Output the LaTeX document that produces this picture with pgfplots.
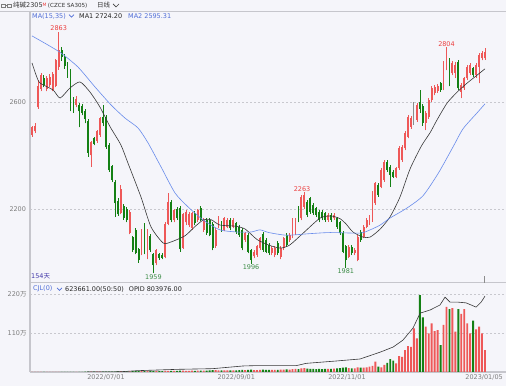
\documentclass[border=0pt]{standalone}
\usepackage{pgfplots}
\pgfplotsset{compat=1.18}
\usepackage{pgfplotstable}
\usepackage{fontspec}
\setmainfont{DejaVu Sans}
\newfontfamily\cjk{Noto Sans CJK SC}
\definecolor{bg}{RGB}{245,245,250}
\definecolor{bord}{RGB}{198,198,204}
\definecolor{gridc}{RGB}{200,200,206}
\definecolor{cred}{RGB}{238,88,88}
\definecolor{cgreen}{RGB}{20,128,20}
\definecolor{cgray}{RGB}{140,140,140}
\definecolor{ma1}{RGB}{55,55,55}
\definecolor{ma2}{RGB}{105,140,235}
\definecolor{tickc}{RGB}{125,125,125}
\definecolor{lblred}{RGB}{236,64,64}
\definecolor{lblgreen}{RGB}{60,140,70}
\definecolor{daysc}{RGB}{70,60,170}
\definecolor{blue1}{RGB}{80,110,215}

\pgfplotsset{candle/.style={only marks, mark size=0pt, mark options={draw=none, fill=none},
  error bars/y dir=plus, error bars/y explicit, error bars/error mark=none}}

\pgfplotstableread{
i o h l c v d
0 2476 2512 2470 2505 0.4 1
1 2490 2520 2484 2512 0.4 1
2 2580 2682 2575 2660 0.5 1
3 2650 2710 2640 2700 0.5 1
4 2690 2700 2655 2665 0.5 -1
5 2650 2698 2640 2690 0.5 1
6 2665 2705 2655 2695 0.5 1
7 2645 2712 2640 2705 0.6 1
8 2660 2762 2655 2757 0.6 1
9 2730 2863 2720 2795 0.7 1
10 2795 2805 2755 2770 0.6 -1
11 2770 2778 2725 2735 0.6 -1
12 2740 2750 2690 2700 0.6 -1
13 2720 2725 2565 2600 0.7 -1
14 2610 2618 2560 2570 0.6 -1
15 2590 2622 2580 2612 0.6 1
16 2590 2598 2505 2565 0.7 -1
17 2585 2592 2550 2560 0.7 -1
18 2565 2572 2520 2535 0.8 -1
19 2530 2535 2395 2410 0.9 -1
20 2400 2455 2358 2450 0.9 1
21 2465 2470 2438 2444 0.8 -1
22 2455 2495 2448 2490 0.9 1
23 2478 2545 2470 2540 0.9 1
24 2545 2590 2510 2520 1.0 -1
25 2545 2550 2425 2430 1.1 -1
26 2440 2448 2340 2345 1.2 -1
27 2360 2365 2300 2310 1.2 -1
28 2300 2310 2170 2222 1.4 -1
29 2230 2240 2175 2180 1.5 -1
30 2185 2290 2180 2275 1.6 1
31 2210 2220 2160 2165 1.8 -1
32 2200 2206 2150 2160 1.9 -1
33 2110 2195 2105 2190 2.0 1
34 2095 2100 2040 2047 2.2 -1
35 2120 2130 2030 2035 2.3 -1
36 2050 2055 2000 2010 2.4 -1
37 2035 2125 2028 2110 2.5 1
38 2130 2146 2030 2035 2.4 -1
39 2020 2125 2012 2120 2.6 1
40 2100 2108 2040 2045 2.7 -1
41 2030 2035 1959 1990 3.0 -1
42 1997 2050 1990 2045 2.9 1
43 2030 2036 2010 2016 2.7 -1
44 2028 2034 2012 2018 2.6 -1
45 2022 2150 2015 2145 3.2 1
46 2145 2258 2140 2226 3.5 1
47 2225 2235 2150 2160 3.3 -1
48 2160 2200 2150 2195 3.0 1
49 2200 2208 2160 2165 3.1 -1
50 2205 2212 2040 2050 3.6 -1
51 2055 2185 2050 2180 3.8 1
52 2150 2195 2140 2190 3.5 1
53 2140 2188 2132 2180 3.4 1
54 2130 2190 2122 2184 3.6 1
55 2184 2192 2140 2146 3.5 -1
56 2160 2200 2152 2196 3.7 1
57 2205 2212 2155 2160 3.9 -1
58 2122 2166 2115 2160 3.8 1
59 2160 2168 2104 2110 4.2 -1
60 2158 2165 2098 2103 4.5 -1
61 2145 2150 2045 2053 5.5 -1
62 2060 2128 2055 2122 5.0 1
63 2134 2172 2128 2165 4.6 1
64 2147 2155 2115 2122 4.4 -1
65 2122 2170 2116 2165 4.5 1
66 2134 2166 2128 2159 4.3 1
67 2159 2166 2120 2128 4.4 -1
68 2134 2165 2128 2159 4.6 1
69 2147 2152 2108 2115 4.8 -1
70 2134 2140 2096 2103 5.0 -1
71 2122 2128 2045 2053 5.8 -1
72 2085 2115 2078 2109 5.2 1
73 2103 2110 2034 2040 6.0 -1
74 2047 2052 1996 2010 6.5 -1
75 2023 2046 2015 2040 5.5 1
76 2028 2066 2022 2060 5.6 1
77 2053 2096 2046 2090 6.0 1
78 2108 2115 2040 2047 6.4 -1
79 2085 2092 2034 2040 6.2 -1
80 2065 2072 2028 2035 6.0 -1
81 2035 2060 2028 2053 5.8 1
82 2028 2060 2020 2053 6.0 1
83 2072 2080 2028 2035 6.3 -1
84 2022 2060 2012 2053 6.5 1
85 2053 2097 2046 2090 7.0 1
86 2103 2110 2058 2065 7.2 -1
87 2085 2110 2078 2103 7.0 1
88 2097 2166 2090 2159 8.0 1
89 2110 2166 2104 2159 8.5 1
90 2202 2210 2150 2159 8.0 -1
91 2165 2252 2158 2245 10 1
92 2208 2263 2200 2252 11 1
93 2227 2235 2170 2178 9.5 -1
94 2240 2246 2182 2190 9.0 -1
95 2215 2222 2178 2184 8.5 -1
96 2202 2208 2170 2178 8.0 -1
97 2190 2196 2150 2159 8.5 -1
98 2190 2197 2158 2165 8.0 -1
99 2184 2190 2152 2159 8.5 -1
100 2160 2185 2153 2178 9.0 1
101 2178 2184 2153 2160 9.0 -1
102 2165 2184 2158 2178 9.5 1
103 2165 2171 2126 2134 10 -1
104 2150 2157 2104 2110 11 -1
105 2110 2116 2034 2040 12 -1
106 2060 2066 1981 2010 13 -1
107 2022 2066 2015 2059 11 1
108 2059 2066 2028 2034 10 -1
109 2035 2054 2028 2047 10 1
110 2010 2103 2004 2097 13 1
111 2115 2122 2078 2085 12 -1
112 2097 2140 2090 2134 12 1
113 2134 2165 2128 2159 13 1
114 2146 2178 2140 2172 15 1
115 2159 2266 2152 2259 17 1
116 2221 2302 2215 2296 29 1
117 2290 2298 2246 2252 15 -1
118 2284 2352 2278 2346 13 1
119 2308 2384 2302 2377 20 1
120 2377 2384 2340 2346 26 -1
121 2358 2364 2284 2327 36 -1
122 2340 2346 2315 2321 32 -1
123 2321 2358 2315 2352 24 1
124 2352 2434 2346 2427 45 1
125 2383 2440 2377 2433 43 1
126 2427 2490 2420 2483 62 1
127 2470 2552 2464 2545 73 1
128 2508 2546 2500 2539 71 1
129 2545 2601 2514 2547 123 0
130 2533 2596 2527 2589 95 1
131 2600 2645 2560 2575 217 -1
132 2585 2592 2512 2520 154 -1
133 2520 2565 2495 2558 128 1
134 2545 2615 2538 2608 109 1
135 2608 2658 2600 2651 137 1
136 2632 2664 2625 2657 115 1
137 2640 2668 2634 2660 118 1
138 2670 2676 2638 2645 76 -1
139 2650 2752 2644 2745 133 1
140 2725 2804 2718 2755 184 1
141 2757 2764 2658 2664 177 -1
142 2707 2752 2700 2745 180 1
143 2710 2748 2690 2740 114 1
144 2751 2758 2645 2651 177 -1
145 2639 2670 2614 2664 164 1
146 2651 2694 2645 2688 177 1
147 2688 2738 2682 2732 137 1
148 2707 2745 2700 2738 109 1
149 2726 2732 2695 2701 145 -1
150 2701 2744 2690 2738 120 1
151 2732 2782 2670 2776 128 1
152 2763 2790 2756 2782 109 1
153 2763 2800 2757 2788 62 1
}\kdata

\begin{document}
\begin{tikzpicture}
\useasboundingbox (0,0) rectangle (506bp,386bp);
\fill[bg] (0,0) rectangle (506bp,386bp);
% frame lines
\draw[bord, line width=1.4bp] (0,374.5bp) -- (506bp,374.5bp);
\draw[bord, line width=1.4bp] (30bp,374bp) -- (30bp,13.5bp);
\draw[bord, line width=1bp] (30bp,103bp) -- (506bp,103bp);
\draw[bord, line width=1.2bp] (30bp,14bp) -- (506bp,14bp);
\draw[cgray, line width=0.6bp] (484bp,103bp) -- (484bp,110bp);

% header
\draw[tickc, line width=0.6bp] (1.5bp,378.5bp) rectangle (5.5bp,382bp);
\draw[tickc, line width=0.6bp] (7.5bp,378.5bp) rectangle (11.5bp,382bp);
\draw[tickc, line width=0.6bp] (5.5bp,380.2bp) -- (7.5bp,380.2bp);
\node[anchor=west, inner sep=0pt, text=black!80] at (13bp,380.5bp)
  {\fontsize{6.5}{7}\selectfont{\cjk 纯碱}2305\raisebox{1.5bp}{\fontsize{4.5}{5}\selectfont\color{lblred}M}\hspace{1.5bp}\fontsize{5.6}{6}\selectfont(CZCE SA305)};
\node[anchor=west, inner sep=0pt, text=black!80] at (97bp,380.5bp) {\fontsize{6.5}{7}\selectfont\cjk 日线};
\draw[black!75, line width=0.7bp] (113bp,382bp) -- (116bp,379bp) -- (119bp,382bp);

\node[anchor=west, inner sep=0pt, text=blue1] at (32bp,370bp) {\fontsize{6.5}{7}\selectfont MA(15,35)};
\draw[blue1, line width=0.7bp] (69bp,371.3bp) -- (71.5bp,368.8bp) -- (74bp,371.3bp);
\node[anchor=west, inner sep=0pt, text=black!85] at (79bp,370bp) {\fontsize{6.5}{7}\selectfont MA1 2724.20};
\node[anchor=west, inner sep=0pt, text=blue1] at (128bp,370bp) {\fontsize{6.5}{7}\selectfont MA2 2595.31};

\node[anchor=west, inner sep=0pt, text=daysc] at (31bp,109.3bp) {\fontsize{6.5}{7}\selectfont 154{\cjk 天}};

\node[anchor=west, inner sep=0pt, text=blue1] at (33bp,97bp) {\fontsize{6.5}{7}\selectfont CJL(0)};
\draw[blue1, line width=0.7bp] (57bp,98.2bp) -- (59.5bp,95.7bp) -- (62bp,98.2bp);
\node[anchor=west, inner sep=0pt, text=black!85] at (65bp,97bp) {\fontsize{6.5}{7}\selectfont 623661.00(50:50)\hspace{5bp}OPID 803976.00};

% price panel
\begin{axis}[at={(30bp,103bp)}, anchor=south west, width=476bp, height=271bp,
  scale only axis, xmin=-0.676, xmax=160.1, ymin=1923.4, ymax=2936.4,
  axis line style={draw=none}, major tick length=0pt,
  xtick=\empty, ytick={2200,2600}, yticklabels={2200,2600},
  yticklabel style={font=\fontsize{6.5}{7}\selectfont, text=tickc, xshift=-0.5bp},
  ymajorgrids, major grid style={draw=gridc, dash pattern=on 2bp off 2bp, line width=0.6bp},
  clip=true]
\addplot[candle, restrict expr to domain={\thisrow{d}}{0.5:1.5},
  error bars/error bar style={draw=cred, line width=0.7bp, solid}]
  table[x=i, y=l, y error expr=\thisrow{h}-\thisrow{l}] {\kdata};
\addplot[candle, restrict expr to domain={\thisrow{d}}{0.5:1.5},
  error bars/error bar style={draw=cred, line width=1.9bp, solid}]
  table[x=i, y=o, y error expr=\thisrow{c}-\thisrow{o}] {\kdata};
\addplot[candle, restrict expr to domain={\thisrow{d}}{-1.5:-0.5},
  error bars/error bar style={draw=cgreen, line width=0.7bp, solid}]
  table[x=i, y=l, y error expr=\thisrow{h}-\thisrow{l}] {\kdata};
\addplot[candle, restrict expr to domain={\thisrow{d}}{-1.5:-0.5},
  error bars/error bar style={draw=cgreen, line width=1.9bp, solid}]
  table[x=i, y=c, y error expr=\thisrow{o}-\thisrow{c}] {\kdata};
\addplot[candle, restrict expr to domain={\thisrow{d}}{-0.5:0.5},
  error bars/error bar style={draw=cgray, line width=0.9bp, solid}]
  table[x=i, y=l, y error expr=\thisrow{h}-\thisrow{l}] {\kdata};
% MA1 (15)
\addplot[ma1, line width=0.6bp, mark=none, smooth, tension=0.4] coordinates {
(0,2746) (1.4,2700) (2.7,2671) (7.1,2645) (9.5,2615) (12.8,2652) (16.2,2675)
(19.6,2637) (22.9,2582) (26.4,2507) (30,2440) (32.4,2372) (36.8,2245) (40.2,2133)
(44.3,2073) (47,2077) (51.7,2100) (55.1,2135) (58,2160) (60.5,2160) (63.5,2140)
(68.6,2136) (72,2125) (76,2086) (80,2065) (83.8,2054) (87,2065) (91.6,2110)
(97.3,2166) (101,2174) (104,2164) (106,2145) (108.4,2114) (111.8,2095) (114.2,2095)
(117.6,2125) (120.9,2170) (124.3,2245) (127.7,2350) (131.5,2435) (134.5,2486)
(136.8,2533) (140.2,2596) (143.6,2637) (147,2671) (150.3,2700) (153,2724)};
% MA2 (35)
\addplot[ma2, line width=0.6bp, mark=none, smooth, tension=0.4] coordinates {
(0,2847) (5.4,2813) (9.8,2783) (15.5,2731) (21.3,2656) (26.7,2589) (31.4,2540)
(35.8,2503) (39.2,2447) (43.6,2357) (48.3,2260) (52.7,2208) (57.8,2159) (63.5,2122)
(69.3,2114) (74,2114) (77,2122) (80,2112) (86,2102) (94,2108) (100.7,2112)
(110.8,2110) (114.2,2122) (117.6,2140) (120.9,2166) (126.7,2204) (132.1,2250)
(137.3,2335) (142.2,2432) (145.6,2500) (150.3,2559) (153,2593)};
% high/low labels
\node[anchor=south, inner sep=0.8bp, text=lblred, font=\fontsize{6.5}{7}\selectfont] at (axis cs:9,2863) {2863};
\node[anchor=south, inner sep=0.8bp, text=lblred, font=\fontsize{6.5}{7}\selectfont] at (axis cs:140,2804) {2804};
\node[anchor=south, inner sep=0.8bp, text=lblred, font=\fontsize{6.5}{7}\selectfont] at (axis cs:91.2,2263) {2263};
\node[anchor=north, inner sep=0.8bp, text=lblgreen, font=\fontsize{6.5}{7}\selectfont] at (axis cs:41,1959) {1959};
\node[anchor=north, inner sep=0.8bp, text=lblgreen, font=\fontsize{6.5}{7}\selectfont] at (axis cs:74,1996) {1996};
\node[anchor=north, inner sep=0.8bp, text=lblgreen, font=\fontsize{6.5}{7}\selectfont] at (axis cs:106,1981) {1981};
\end{axis}

% volume panel
\begin{axis}[at={(30bp,14bp)}, anchor=south west, width=476bp, height=88bp,
  scale only axis, xmin=-0.676, xmax=160.1, ymin=0, ymax=248.2,
  axis line style={draw=none}, major tick length=0pt,
  xtick={25,69,106.4,152.7},
  xticklabels={2022/07/01,2022/09/01,2022/11/01,2023/01/05},
  xticklabel style={font=\fontsize{6.5}{7}\selectfont, text=tickc, yshift=0.5bp},
  ytick={110,220}, yticklabels={110{\cjk 万},220{\cjk 万}},
  yticklabel style={font=\fontsize{6.5}{7}\selectfont, text=tickc},
  ymajorgrids, major grid style={draw=gridc, dash pattern=on 2bp off 2bp, line width=0.6bp},
  clip=true]
\addplot[ybar, bar width=1.9bp, bar shift=0pt, fill=cred, draw=none,
  restrict expr to domain={\thisrow{d}}{-0.5:1.5}] table[x=i, y=v] {\kdata};
\addplot[ybar, bar width=1.9bp, bar shift=0pt, fill=cgreen, draw=none,
  restrict expr to domain={\thisrow{d}}{-1.5:-0.5}] table[x=i, y=v] {\kdata};
% OPID line
\addplot[ma1, line width=0.6bp, mark=none] coordinates {
(18.6,0.3) (29.7,0.6) (35.5,3.7) (49,7.5) (61,9.4) (71.3,17) (74.7,17.8) (89.2,17.8)
(92.6,24.4) (102.7,31) (110.8,36.7) (117.6,56) (122,70.5) (125.3,90) (128.7,124)
(131.1,166) (134.5,175) (137.8,189) (139.5,211) (141.2,197) (143.9,197) (146.6,195)
(150,183) (151.7,197) (153,214)};
\end{axis}
\end{tikzpicture}
\end{document}
